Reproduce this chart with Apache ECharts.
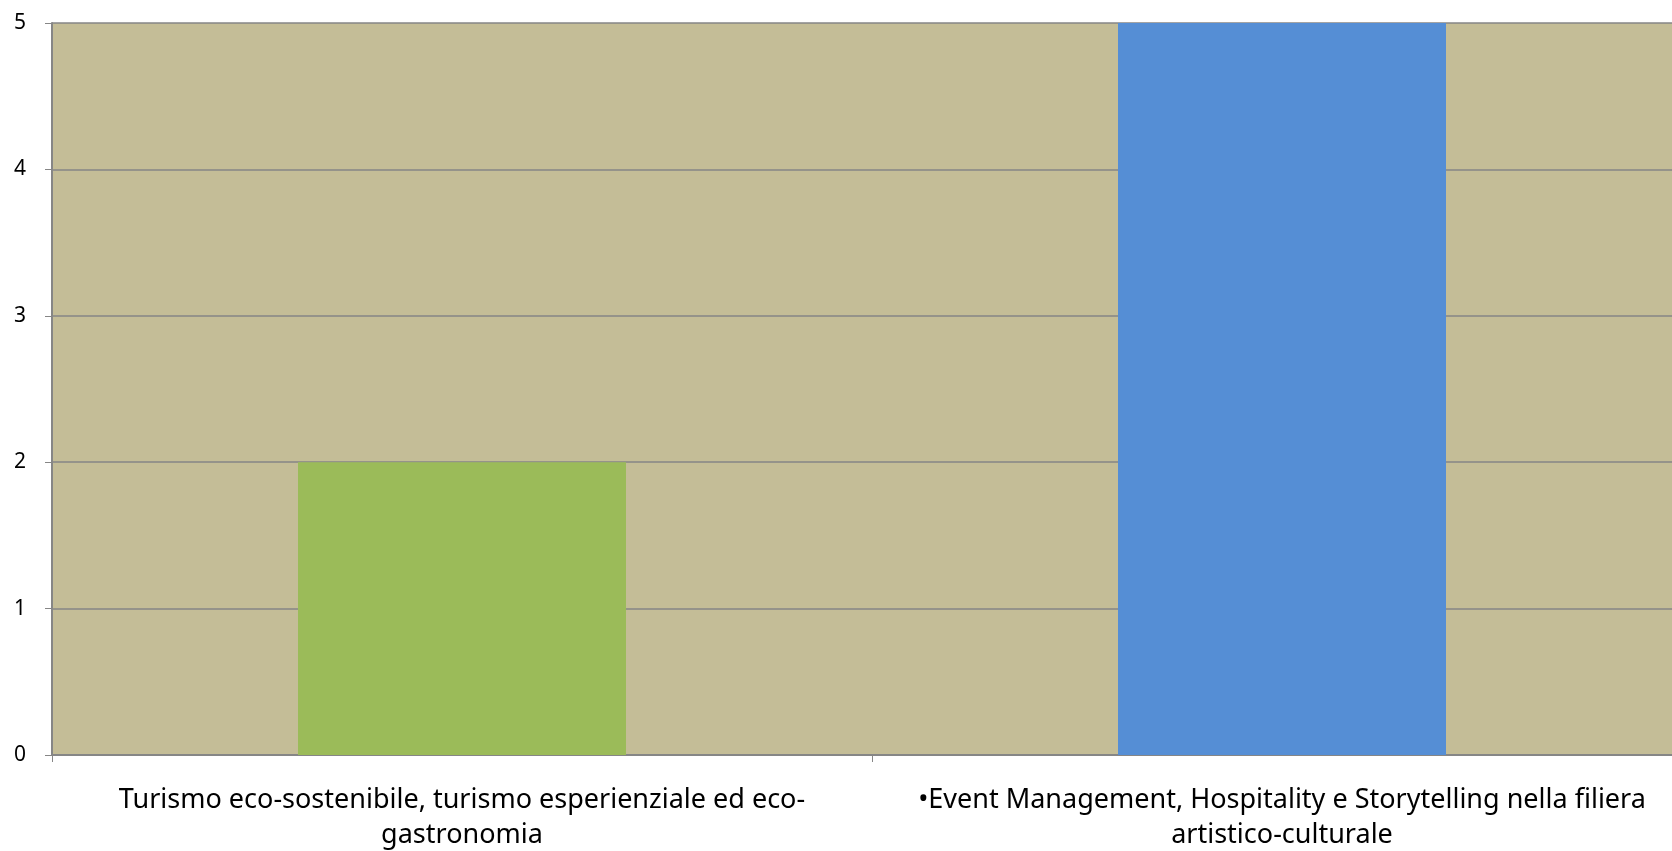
<!DOCTYPE html>
<html>
<head>
<meta charset="utf-8">
<script src="https://cdn.jsdelivr.net/npm/echarts@6/dist/echarts.min.js"></script>
<style>
  html, body { margin: 0; padding: 0; background: #fff; overflow: hidden; }
  /* the source plot runs ~20px past the right edge of the image */
  #chart { width: 1692px; height: 851px; }
</style>
</head>
<body>
<div id="chart"></div>
<script>
var categories = [
	'Turismo eco-sostenibile, turismo esperienziale ed eco-\ngastronomia',
	'\u2022Event Management, Hospitality e Storytelling nella filiera\nartistico-culturale'
];
var values = [2, 5];
var yTicks = [0, 1, 2, 3, 4, 5];

// one colour per bar, like the original sheet
var barColors = ['#9BBB59', '#558ED5'];

var chart = echarts.init(document.getElementById('chart'));
var option = {
	animation: false,
	grid: {
		show: true,
		left: 52,
		right: 0,
		top: 23,
		bottom: 96,
		outerBoundsMode: 'none',
		backgroundColor: '#C4BD97',
		borderWidth: 0
	},
	xAxis: {
		type: 'category',
		data: categories,
		axisLine: { lineStyle: { color: '#868686', width: 2 } },
		axisTick: { show: true, length: 7, lineStyle: { color: '#868686' } },
		axisLabel: {
			color: '#000',
			fontFamily: 'Noto Sans',
			fontSize: 27,
			lineHeight: 35,
			margin: 28,
			interval: 0
		}
	},
	yAxis: {
		type: 'value',
		min: yTicks[0],
		max: yTicks[yTicks.length - 1],
		interval: 1,
		axisLine: { show: true, lineStyle: { color: '#868686', width: 2 } },
		axisTick: { show: true, length: 7, lineStyle: { color: '#868686' } },
		axisLabel: {
			color: '#000',
			fontFamily: 'Noto Sans',
			fontSize: 21,
			margin: 26
		},
		splitLine: { lineStyle: { color: '#868686', width: 1.5 } }
	},
	series: [{
		type: 'bar',
		barWidth: '40%',
		data: values.map(function (v, i) {
			return { value: v, itemStyle: { color: barColors[i] } };
		})
	}]
};
chart.setOption(option);
</script>
</body>
</html>
